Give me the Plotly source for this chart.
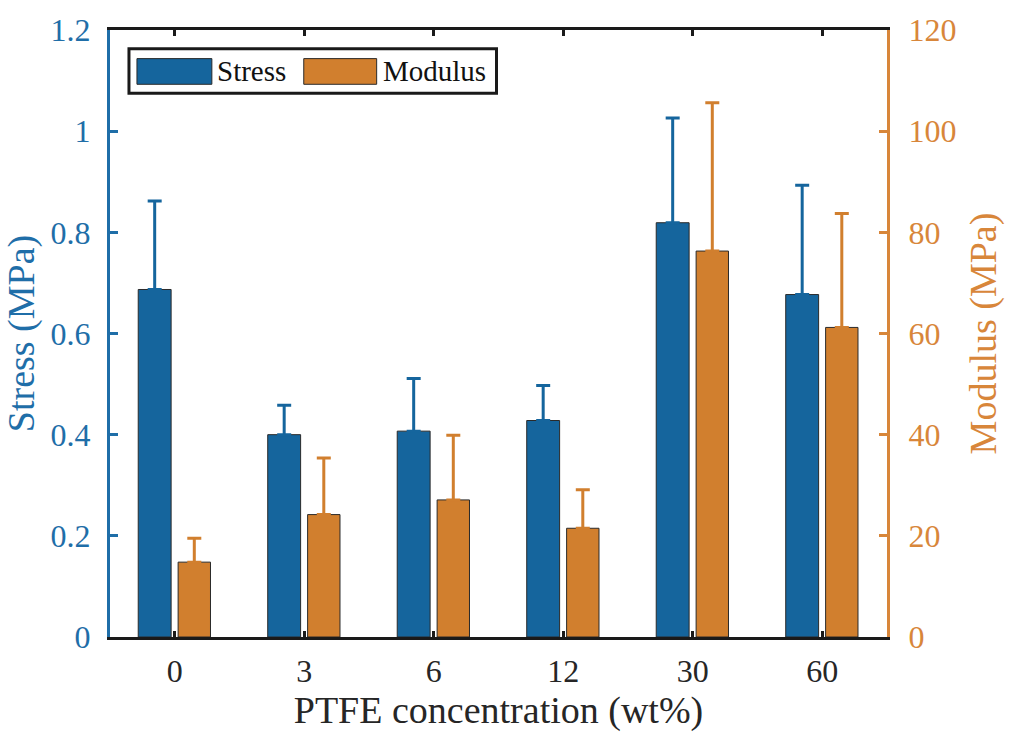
import plotly.graph_objects as go

# ---------------- data ----------------
categories = ["0", "3", "6", "12", "30", "60"]
stress = [0.687, 0.400, 0.407, 0.428, 0.819, 0.677]
stress_err = [0.175, 0.058, 0.104, 0.069, 0.207, 0.216]
modulus = [14.8, 24.2, 27.1, 21.5, 76.3, 61.2]
modulus_err = [4.7, 11.2, 12.8, 7.6, 29.3, 22.5]
stress_ticks = [0, 0.2, 0.4, 0.6, 0.8, 1.0, 1.2]
stress_ticktext = ["0", "0.2", "0.4", "0.6", "0.8", "1", "1.2"]
modulus_ticks = [0, 20, 40, 60, 80, 100, 120]

# ---------------- style ----------------
W, H = 1009, 736
ML, MR, MT, MB = 110, 121, 22, 99
BLUE = "#15659d"
ORANGE = "#d17f2e"
BLUE_AX = "#1f6ea8"
ORANGE_AX = "#d8863a"
FONT = "Liberation Serif"

fig = go.Figure()
fig.add_trace(go.Bar(
    x=categories, y=stress, name="Stress", yaxis="y",
    width=0.254, offset=-0.282,
    marker=dict(color=BLUE, line=dict(color="#2a2a2a", width=1)),
    error_y=dict(type="data", array=stress_err, arrayminus=[0] * len(stress),
                 symmetric=False, color=BLUE, thickness=3, width=7),
    showlegend=False,
))
fig.add_trace(go.Bar(
    x=categories, y=modulus, name="Modulus", yaxis="y2",
    width=0.25, offset=0.026,
    marker=dict(color=ORANGE, line=dict(color="#2a2a2a", width=1)),
    error_y=dict(type="data", array=modulus_err, arrayminus=[0] * len(modulus),
                 symmetric=False, color=ORANGE, thickness=3, width=7),
    showlegend=False,
))

pw = W - ML - MR
ph = H - MT - MB


def px_x(p):
    return (p - ML) / pw


def px_y(p):
    return (H - MB - p) / ph


shapes = [
    # legend box
    dict(type="rect", xref="paper", yref="paper",
         x0=px_x(129), x1=px_x(497), y0=px_y(86), y1=px_y(41),
         line=dict(color="#1a1a1a", width=3), fillcolor="white", layer="above"),
    dict(type="rect", xref="paper", yref="paper",
         x0=px_x(137), x1=px_x(212), y0=px_y(77), y1=px_y(51),
         line=dict(color="#2a2a2a", width=1), fillcolor=BLUE, layer="above"),
    dict(type="rect", xref="paper", yref="paper",
         x0=px_x(304), x1=px_x(377), y0=px_y(77), y1=px_y(51),
         line=dict(color="#2a2a2a", width=1), fillcolor=ORANGE, layer="above"),
]
annotations = [
    dict(text="Stress", xref="paper", yref="paper", x=px_x(215), y=px_y(64),
         xanchor="left", yanchor="middle", showarrow=False,
         font=dict(family=FONT, size=29, color="#111")),
    dict(text="Modulus", xref="paper", yref="paper", x=px_x(381), y=px_y(64),
         xanchor="left", yanchor="middle", showarrow=False,
         font=dict(family=FONT, size=29, color="#111")),
]

fig.update_layout(
    width=W, height=H,
    margin=dict(l=ML, r=MR, t=MT, b=MB, pad=0),
    paper_bgcolor="white", plot_bgcolor="white",
    barmode="overlay",
    font=dict(family=FONT, size=32),
    shapes=shapes, annotations=annotations,
    xaxis=dict(
        type="category", range=[-0.5, 5.5],
        showline=True, linecolor="#1a1a1a", linewidth=3, mirror="ticks",
        ticks="inside", ticklen=6, tickwidth=3, tickcolor="#1a1a1a",
        showgrid=False, zeroline=False,
        tickfont=dict(family=FONT, size=32, color="#262626"),
        ticklabelstandoff=4,
        title=dict(text="PTFE concentration (wt%)",
                   font=dict(family=FONT, size=38, color="#262626"), standoff=6),
    ),
    yaxis=dict(
        range=[0, 1.2], tickvals=stress_ticks, ticktext=stress_ticktext,
        showline=True, linecolor=BLUE_AX, linewidth=3,
        ticks="inside", ticklen=8, tickwidth=3, tickcolor=BLUE_AX,
        showgrid=False, zeroline=False,
        tickfont=dict(family=FONT, size=32, color=BLUE_AX),
        ticklabelstandoff=10,
        title=dict(text="Stress (MPa)", font=dict(family=FONT, size=38, color=BLUE_AX),
                   standoff=8),
    ),
    yaxis2=dict(
        range=[0, 120], tickvals=modulus_ticks, overlaying="y", side="right",
        showline=True, linecolor=ORANGE_AX, linewidth=3,
        ticks="inside", ticklen=8, tickwidth=3, tickcolor=ORANGE_AX,
        showgrid=False, zeroline=False,
        tickfont=dict(family=FONT, size=32, color=ORANGE_AX),
        ticklabelstandoff=12,
        title=dict(text="Modulus (MPa)", font=dict(family=FONT, size=38, color=ORANGE_AX),
                   standoff=14),
    ),
)

fig.write_html("out.html")
